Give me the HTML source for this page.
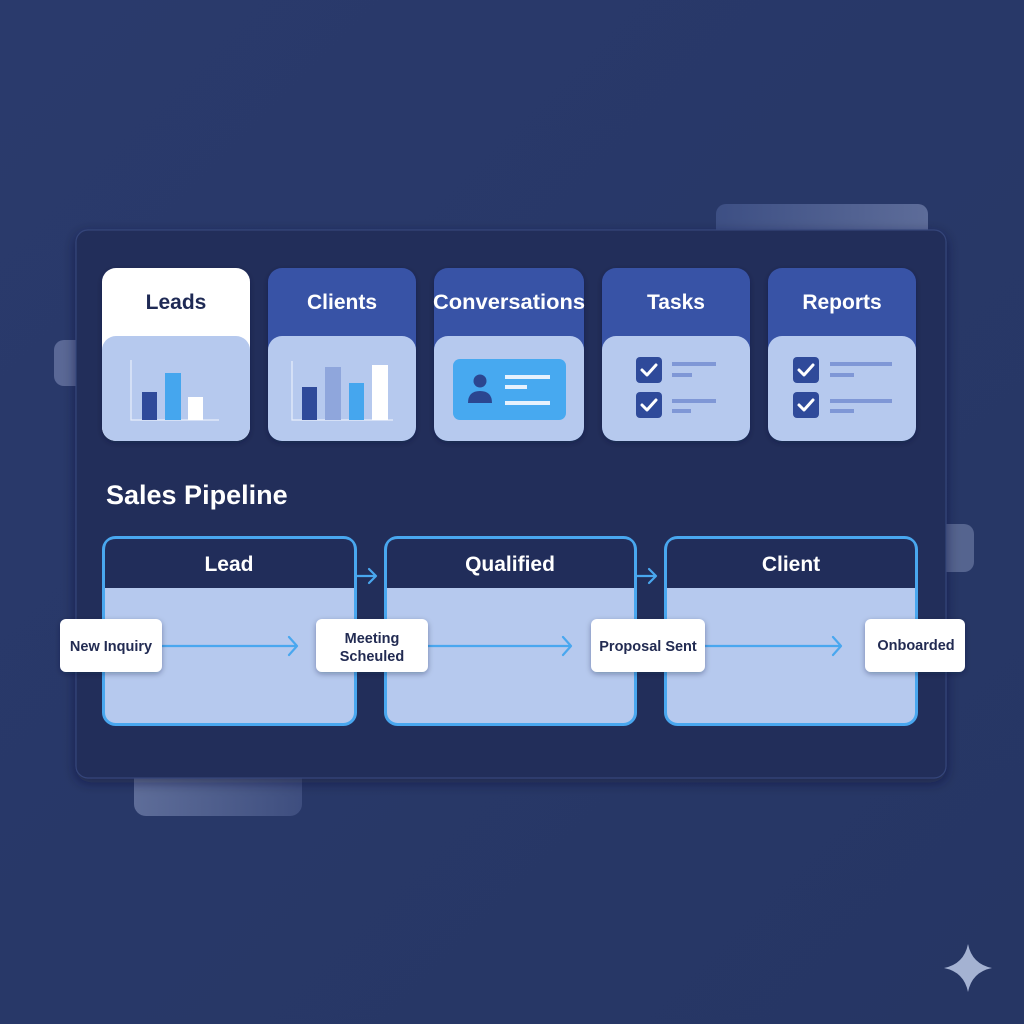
<!DOCTYPE html>
<html><head><meta charset="utf-8"><style>
html,body{margin:0;padding:0;background:#283868;}
svg{display:block}
text{font-family:"Liberation Sans",sans-serif;font-weight:bold}
</style></head><body>
<svg width="1024" height="1024" viewBox="0 0 1024 1024" xmlns="http://www.w3.org/2000/svg">
<defs>
<linearGradient id="bg" x1="0" y1="0" x2="1" y2="1"><stop offset="0" stop-color="#2a3a6c"/><stop offset="1" stop-color="#263664"/></linearGradient>
<linearGradient id="dg1" x1="0" y1="0" x2="1" y2="0"><stop offset="0" stop-color="#3d4f84"/><stop offset="1" stop-color="#5d6c99"/></linearGradient>
<linearGradient id="dg2" x1="0" y1="0" x2="1" y2="0"><stop offset="0" stop-color="#5e6d99"/><stop offset="1" stop-color="#3e4e7f"/></linearGradient>
<filter id="sh" x="-10%" y="-10%" width="120%" height="130%"><feDropShadow dx="0" dy="4" stdDeviation="6" flood-color="#0c1430" flood-opacity="0.5"/></filter>
<filter id="sh2" x="-20%" y="-20%" width="140%" height="160%"><feDropShadow dx="0" dy="2" stdDeviation="3" flood-color="#0c1430" flood-opacity="0.35"/></filter>
</defs>
<rect width="1024" height="1024" fill="url(#bg)"/>
<!-- deco -->
<rect x="716" y="204" width="212" height="60" rx="10" fill="url(#dg1)"/>
<rect x="54" y="340" width="40" height="46" rx="10" fill="#5a6896"/>
<rect x="930" y="524" width="44" height="48" rx="10" fill="#55648f"/>
<rect x="134" y="760" width="168" height="56" rx="12" fill="url(#dg2)"/>
<!-- panel -->
<rect x="76" y="230" width="870" height="548" rx="12" fill="#212d5a" stroke="#34457a" stroke-width="1.2" filter="url(#sh)"/>

<!-- cards -->
<g filter="url(#sh2)">
<rect x="102" y="268" width="148" height="173" rx="14" fill="#ffffff"/>
<rect x="268" y="268" width="148" height="173" rx="14" fill="#3753a6"/>
<rect x="434" y="268" width="150" height="173" rx="14" fill="#3753a6"/>
<rect x="602" y="268" width="148" height="173" rx="14" fill="#3753a6"/>
<rect x="768" y="268" width="148" height="173" rx="14" fill="#3753a6"/>
</g>
<rect x="102" y="336" width="148" height="105" rx="14" fill="#b6c9ee"/>
<rect x="268" y="336" width="148" height="105" rx="14" fill="#b6c9ee"/>
<rect x="434" y="336" width="150" height="105" rx="14" fill="#b6c9ee"/>
<rect x="602" y="336" width="148" height="105" rx="14" fill="#b6c9ee"/>
<rect x="768" y="336" width="148" height="105" rx="14" fill="#b6c9ee"/>
<text x="176" y="309" font-size="21" fill="#1f2a55" text-anchor="middle">Leads</text>
<text x="342" y="309" font-size="21" fill="#ffffff" text-anchor="middle">Clients</text>
<text x="509" y="309" font-size="21" fill="#ffffff" text-anchor="middle" textLength="152" lengthAdjust="spacingAndGlyphs">Conversations</text>
<text x="676" y="309" font-size="21" fill="#ffffff" text-anchor="middle">Tasks</text>
<text x="842" y="309" font-size="21" fill="#ffffff" text-anchor="middle">Reports</text>

<!-- leads chart -->
<path d="M131 360 V420 H219" stroke="#e8eefb" stroke-width="1.2" fill="none"/>
<rect x="142" y="392" width="15" height="28" fill="#2f4a9a"/>
<rect x="165" y="373" width="16" height="47" fill="#45a6ee"/>
<rect x="188" y="397" width="15" height="23" fill="#ffffff"/>
<!-- clients chart -->
<path d="M292 361 V420 H393" stroke="#e8eefb" stroke-width="1.2" fill="none"/>
<rect x="302" y="387" width="15" height="33" fill="#2f4a9a"/>
<rect x="325" y="367" width="16" height="53" fill="#8fa6dc"/>
<rect x="349" y="383" width="15" height="37" fill="#45a6ee"/>
<rect x="372" y="365" width="16" height="55" fill="#ffffff"/>
<!-- conversations icon -->
<rect x="453" y="359" width="113" height="61" rx="7" fill="#47a9f0"/>
<circle cx="480" cy="381" r="6.5" fill="#2b4690"/>
<path d="M468 403 Q468 391 480 391 Q492 391 492 403 Z" fill="#2b4690"/>
<rect x="505" y="375" width="45" height="4" fill="#e6f1fd"/>
<rect x="505" y="385" width="22" height="4" fill="#e6f1fd"/>
<rect x="505" y="401" width="45" height="4" fill="#e6f1fd"/>
<!-- tasks -->
<g>
<rect x="636" y="357" width="26" height="26" rx="4" fill="#2f4a9a"/>
<path d="M642 370 l5 5 l9 -10" stroke="#fff" stroke-width="3" fill="none" stroke-linecap="round" stroke-linejoin="round"/>
<rect x="636" y="392" width="26" height="26" rx="4" fill="#2f4a9a"/>
<path d="M642 405 l5 5 l9 -10" stroke="#fff" stroke-width="3" fill="none" stroke-linecap="round" stroke-linejoin="round"/>
<rect x="672" y="362" width="44" height="4" fill="#7f97d6"/>
<rect x="672" y="373" width="20" height="4" fill="#7f97d6"/>
<rect x="672" y="399" width="44" height="4" fill="#7f97d6"/>
<rect x="672" y="409" width="19" height="4" fill="#7f97d6"/>
</g>
<g>
<rect x="793" y="357" width="26" height="26" rx="4" fill="#2f4a9a"/>
<path d="M799 370 l5 5 l9 -10" stroke="#fff" stroke-width="3" fill="none" stroke-linecap="round" stroke-linejoin="round"/>
<rect x="793" y="392" width="26" height="26" rx="4" fill="#2f4a9a"/>
<path d="M799 405 l5 5 l9 -10" stroke="#fff" stroke-width="3" fill="none" stroke-linecap="round" stroke-linejoin="round"/>
<rect x="830" y="362" width="62" height="4" fill="#7f97d6"/>
<rect x="830" y="373" width="24" height="4" fill="#7f97d6"/>
<rect x="830" y="399" width="62" height="4" fill="#7f97d6"/>
<rect x="830" y="409" width="24" height="4" fill="#7f97d6"/>
</g>

<text x="106" y="504" font-size="27" fill="#ffffff">Sales Pipeline</text>

<!-- stages -->
<g>
<rect x="103.5" y="537.5" width="252" height="187" rx="12" fill="#b6c9ee" stroke="#49a7ef" stroke-width="3"/>
<path d="M105 588 V550 Q105 539 116 539 H343 Q354 539 354 550 V588 Z" fill="#212d5a"/>
<text x="229" y="571" font-size="21" fill="#fff" text-anchor="middle">Lead</text>
<rect x="385.5" y="537.5" width="250" height="187" rx="12" fill="#b6c9ee" stroke="#49a7ef" stroke-width="3"/>
<path d="M387 588 V550 Q387 539 398 539 H623 Q634 539 634 550 V588 Z" fill="#212d5a"/>
<text x="510" y="571" font-size="21" fill="#fff" text-anchor="middle">Qualified</text>
<rect x="665.5" y="537.5" width="251" height="187" rx="12" fill="#b6c9ee" stroke="#49a7ef" stroke-width="3"/>
<path d="M667 588 V550 Q667 539 678 539 H904 Q915 539 915 550 V588 Z" fill="#212d5a"/>
<text x="791" y="571" font-size="21" fill="#fff" text-anchor="middle">Client</text>
</g>
<!-- stage arrows -->
<g stroke="#49a7ef" stroke-width="2.2" fill="none" stroke-linecap="round" stroke-linejoin="round">
<path d="M357 576 H375 M369 569 L376 576 L369 583"/>
<path d="M637 576 H655 M649 569 L656 576 L649 583"/>
<path d="M162 646 H296 M289 637 L297 646 L289 655"/>
<path d="M428 646 H570 M563 637 L571 646 L563 655"/>
<path d="M704 646 H840 M833 637 L841 646 L833 655"/>
</g>
<!-- nodes -->
<g filter="url(#sh2)" fill="#ffffff">
<rect x="60" y="619" width="102" height="53" rx="6"/>
<rect x="316" y="619" width="112" height="53" rx="6"/>
<rect x="591" y="619" width="114" height="53" rx="6"/>
<rect x="865" y="619" width="100" height="53" rx="6"/>
</g>
<g font-size="14.5" fill="#222b52" text-anchor="middle">
<text x="111" y="651">New Inquiry</text>
<text x="372" y="643">Meeting</text>
<text x="372" y="661">Scheuled</text>
<text x="648" y="651">Proposal Sent</text>
<text x="916" y="650">Onboarded</text>
</g>
<!-- sparkle -->
<path d="M968 944 Q972 964 992 968 Q972 972 968 992 Q964 972 944 968 Q964 964 968 944 Z" fill="#a4b2d2"/>
</svg>
</body></html>
